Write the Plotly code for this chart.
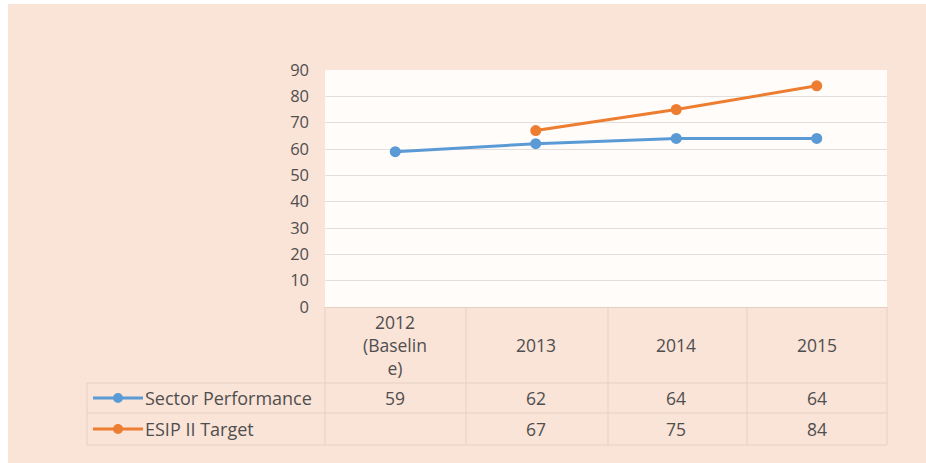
import plotly.graph_objects as go

# Data
categories = ["2012 (Baseline)", "2013", "2014", "2015"]
header_labels = ["2012<br>(Baselin<br>e)", "2013", "2014", "2015"]
sector_performance = [59, 62, 64, 64]
esip_target = [None, 67, 75, 84]
series_names = ["Sector Performance", "ESIP II Target"]
series_colors = ["#5B9BD5", "#ED7D31"]

W, H = 926, 463
FONT = "Open Sans"
TEXT = "#4F4F4F"
GRID = "#E2DEDB"
PEACH = "#FAE3D7"
TABLE_LINE = "#E6D0C4"


def px(x):
    return x / W


def py(y):
    return 1 - y / H


fig = go.Figure()
for name, vals, col in zip(series_names, [sector_performance, esip_target], series_colors):
    fig.add_trace(go.Scatter(
        x=list(range(len(categories))), y=vals, name=name, mode="lines+markers",
        line=dict(color=col, width=3),
        marker=dict(color=col, size=11),
        connectgaps=False, showlegend=False,
    ))

shapes = [
    # thin white edge along the top and left of the chart area
    dict(type="rect", xref="paper", yref="paper", x0=0, x1=1, y0=py(4), y1=1,
         fillcolor="white", line=dict(width=0), layer="below"),
    dict(type="rect", xref="paper", yref="paper", x0=0, x1=px(8), y0=0, y1=1,
         fillcolor="white", line=dict(width=0), layer="below"),
]

# data table grid
line_style = dict(color=TABLE_LINE, width=1)
col_edges = [325, 466, 608, 747, 887]
for x in col_edges:
    shapes.append(dict(type="line", xref="paper", yref="paper", x0=px(x), x1=px(x),
                       y0=py(307), y1=py(445), line=line_style))
shapes.append(dict(type="line", xref="paper", yref="paper", x0=px(87), x1=px(87),
                   y0=py(383), y1=py(445), line=line_style))
for y in [383, 413, 445]:
    shapes.append(dict(type="line", xref="paper", yref="paper", x0=px(87), x1=px(887),
                       y0=py(y), y1=py(y), line=line_style))

annotations = []
# header row: category labels under each point
for i, lab in enumerate(header_labels):
    annotations.append(dict(x=i, xref="x", y=py(345), yref="paper", text=lab,
                            showarrow=False, font=dict(family=FONT, size=17.5, color=TEXT),
                            align="center", yanchor="middle"))

# series rows with legend keys
row_centers = [398, 429]
for name, vals, col, yc in zip(series_names, [sector_performance, esip_target], series_colors, row_centers):
    shapes.append(dict(type="line", xref="paper", yref="paper", x0=px(93), x1=px(143),
                       y0=py(yc), y1=py(yc), line=dict(color=col, width=3)))
    shapes.append(dict(type="circle", xref="paper", yref="paper", x0=px(113), x1=px(123),
                       y0=py(yc + 5), y1=py(yc - 5), fillcolor=col, line=dict(width=0)))
    annotations.append(dict(x=px(143), xref="paper", y=py(yc), yref="paper", text=name,
                            showarrow=False, xanchor="left", yanchor="middle",
                            font=dict(family=FONT, size=18, color=TEXT)))
    for i, v in enumerate(vals):
        if v is None:
            continue
        annotations.append(dict(x=i, xref="x", y=py(yc), yref="paper", text=str(v),
                                showarrow=False, yanchor="middle",
                                font=dict(family=FONT, size=17.5, color=TEXT)))

fig.update_layout(
    width=W, height=H,
    margin=dict(l=0, r=0, t=0, b=0, pad=0, autoexpand=False),
    paper_bgcolor=PEACH,
    plot_bgcolor="#FFFCFA",
    shapes=shapes,
    annotations=annotations,
    xaxis=dict(domain=[px(325), px(887)], range=[-0.5, 3.5], automargin=False,
               showticklabels=False, showgrid=False, zeroline=False,
               showline=True, linecolor=TABLE_LINE, linewidth=1,
               fixedrange=True),
    yaxis=dict(domain=[py(307), py(70)], range=[0, 90], dtick=10, automargin=False,
               showgrid=True, gridcolor=GRID, gridwidth=1, zeroline=False,
               tickfont=dict(family=FONT, size=16.5, color=TEXT),
               ticklabelstandoff=15, fixedrange=True),
    showlegend=False,
)

fig.write_html("out.html")
